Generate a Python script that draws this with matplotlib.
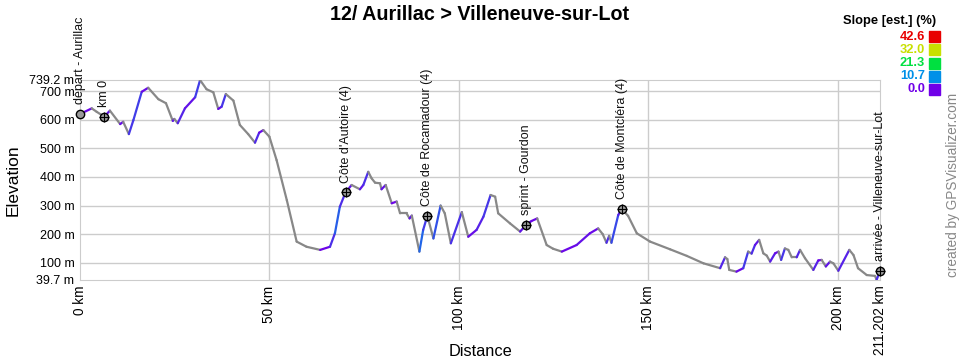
import matplotlib
matplotlib.use("Agg")
import matplotlib.pyplot as plt
import numpy as np
from matplotlib.collections import LineCollection
from matplotlib.colors import LinearSegmentedColormap

plt.rcParams["font.family"] = ["Liberation Sans", "DejaVu Sans"]

# profil (km, m)
dist_km = [0, 3.1, 4.4, 6.4, 7.9, 10.6, 11.4, 12.9, 14.1, 16.3, 18.0, 20.7, 22.7, 24.5, 24.9,
           25.8, 27.7, 30.4, 31.7, 33.4, 35.2, 36.5, 37.4, 38.5, 40.5, 42.2, 44.4, 46.2, 47.3,
           48.4, 50.0, 51.9, 54.6, 57.2, 59.8, 63.4, 66.0, 67.3, 68.6, 70.1, 71.7, 73.9, 74.8,
           76.1, 77.0, 77.9, 79.2, 79.6, 80.7, 82.3, 83.6, 84.5, 86.2, 87.0, 87.6, 89.6, 90.6,
           91.7, 93.3, 95.2, 96.3, 97.9, 100.8, 102.5, 104.7, 106.5, 108.4, 109.6, 110.4, 113.5,
           116.2, 117.7, 119.2, 120.7, 123.2, 124.9, 127.2, 131.1, 134.6, 136.8, 138.0, 139.0,
           139.7, 140.3, 142.1, 143.0, 144.7, 147.0, 150.5, 155.8, 160.2, 164.6, 169.0, 170.3,
           170.9, 171.4, 173.3, 175.1, 176.4, 177.3, 178.2, 179.3, 180.4, 181.3, 182.2, 183.5,
           184.4, 185.1, 186.1, 187.0, 187.9, 189.2, 190.1, 191.4, 193.6, 194.9, 195.8, 196.9,
           198.0, 198.9, 200.2, 203.1, 204.2, 205.4, 207.7, 209.9, 210.3, 211.202]
elev_m = [620, 640, 628, 611, 632, 585, 593, 550, 599, 698, 712, 672, 658, 596, 603,
          588, 640, 679, 739, 707, 696, 638, 646, 690, 667, 582, 550, 520, 555,
          564, 541, 459, 319, 174, 156, 145, 156, 203, 296, 346, 372, 357, 372,
          418, 395, 380, 378, 357, 372, 308, 314, 273, 273, 255, 265, 139, 215,
          264, 185, 300, 273, 168, 277, 191, 215, 261, 337, 331, 273, 238,
          209, 232, 246, 255, 162, 149, 139, 162, 203, 220, 200, 170,
          194, 170, 267, 288, 264, 203, 174, 147, 124, 98, 81, 119,
          113, 75, 69, 81, 139, 132, 162, 180, 133, 125, 104, 133,
          139, 110, 150, 145, 119, 119, 145, 116, 75, 108, 110, 87,
          104, 98, 72, 145, 127, 81, 57, 54, 40, 71]

wpt_names = ["départ - Aurillac", "km 0", "Côte d'Autoire (4)", "Côte de Rocamadour (4)",
             "sprint - Gourdon", "Côte de Montcléra (4)", "arrivée - Villeneuve-sur-Lot"]
wpt_km = [0, 6.4, 70.1, 91.7, 117.7, 143.0, 211.202]
wpt_m = [620, 611, 346, 264, 232, 288, 71]

y_ticks = [39.7, 100, 200, 300, 400, 500, 600, 700, 739.2]
x_ticks = [0, 50, 100, 150, 200, 211.202]
x_labels = ["0 km", "50 km", "100 km", "150 km", "200 km", "211.202 km"]

slope_vals = [42.6, 32.0, 21.3, 10.7, 0.0]
slope_cols = ["#e80000", "#c8e000", "#00e040", "#0090e8", "#7000e8"]

x = np.array(dist_km)
y = np.array(elev_m, dtype=float)

fig = plt.figure(figsize=(9.6, 3.6), dpi=100)
ax = fig.add_axes([80 / 960, 80 / 360, 800 / 960, 200 / 360])
ax.set_xlim(0, 211.202)
ax.set_ylim(39.7, 739.2)

for k in [100, 200, 300, 400, 500, 600, 700]:
    ax.axhline(k, color="#cccccc", lw=1, zorder=0)
for k in [50, 100, 150, 200]:
    ax.axvline(k, color="#cccccc", lw=1, zorder=0)
for s in ax.spines.values():
    s.set_color("#cccccc")

# couleur selon la pente, gris en descente
cmap = LinearSegmentedColormap.from_list("slope", [(v / 42.6, c) for v, c in zip(slope_vals[::-1], slope_cols[::-1])])
segs = np.stack([np.column_stack([x[:-1], y[:-1]]), np.column_stack([x[1:], y[1:]])], axis=1)
slope = (y[1:] - y[:-1]) / ((x[1:] - x[:-1]) * 1000) * 100
cols = [cmap(min(s, 42.6) / 42.6) if s > 0 else "#888888" for s in slope]
ax.add_collection(LineCollection(segs, colors=cols, lw=1.6, zorder=3, capstyle="round"))

for name, wx, wy in zip(wpt_names, wpt_km, wpt_m):
    ax.plot(wx, wy, "o", ms=6, mfc="#999999", mec="black", mew=1, zorder=5, clip_on=False)
    if name != wpt_names[0]:
        ax.plot(wx, wy, "+", ms=7, color="black", mew=0.8, zorder=6, clip_on=False)
    ax.annotate(name, (wx, wy), xytext=(0, 7), textcoords="offset points", rotation=90,
                ha="center", va="bottom", fontsize=9, color="#111111", annotation_clip=False)

ax.set_yticks(y_ticks, [f"{v:g} m" for v in y_ticks], fontsize=9)
ax.set_xticks(x_ticks, x_labels, rotation=90)
ax.tick_params(axis="x", labelsize=9.8)
ax.tick_params(length=0, pad=4)
ax.set_ylabel("Elevation", fontsize=12.5, labelpad=6)
fig.text(0.5, 8 / 360, "Distance", ha="center", va="center", fontsize=11.8)

fig.text(0.5, 1 - 14 / 360, "12/ Aurillac > Villeneuve-sur-Lot", ha="center", va="center",
         fontsize=14.2, fontweight="bold")

fig.text(936 / 960, 1 - 21 / 360, "Slope [est.] (%)", ha="right", va="center",
         fontsize=9.3, fontweight="bold")
for i, (v, c) in enumerate(zip(slope_vals, slope_cols)):
    yy = 1 - (37 + i * 13) / 360
    fig.text(925 / 960, yy, f"{v:.1f}", ha="right", va="center", fontsize=9.3,
             fontweight="bold", color=c)
    fig.patches.append(plt.Rectangle((929 / 960, yy - 5.5 / 360), 11 / 960, 11 / 360,
                                     transform=fig.transFigure, color=c))

fig.text(953 / 960, 1 - 185 / 360, "created by GPSVisualizer.com", rotation=90,
         ha="center", va="center", fontsize=9.8, color="#888888")

fig.savefig("out.png", dpi=100)
